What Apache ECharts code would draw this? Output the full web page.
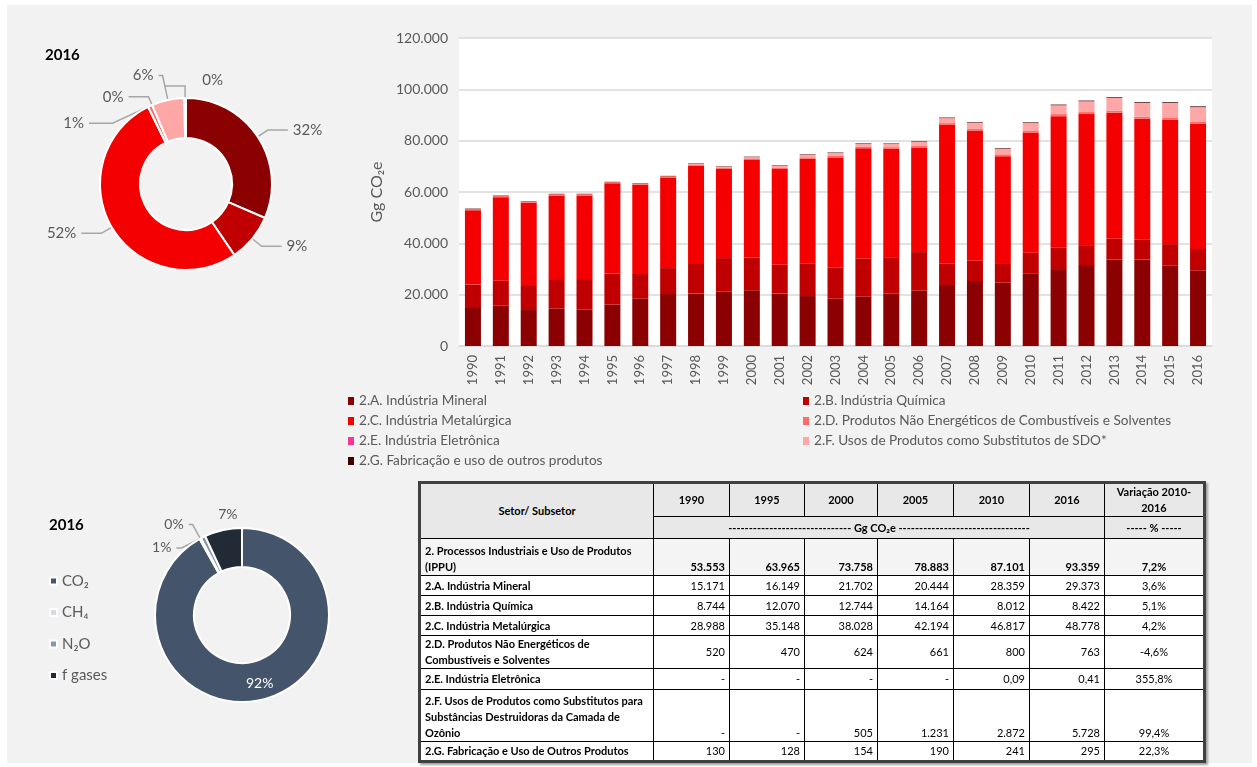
<!DOCTYPE html>
<html>
<head>
<meta charset="utf-8">
<script src="https://cdn.jsdelivr.net/npm/echarts@6.0.0/dist/echarts.min.js"></script>
<style>
html, body { margin: 0; padding: 0; background: #fff; }
#fundo { position: absolute; left: 7px; top: 5px; width: 1245px; height: 758px; background: #f2f2f2; }
#main { position: absolute; left: 0; top: 0; width: 1257px; height: 767px; }
#tabela { position: absolute; left: 418px; top: 481px; width: 785px; border-collapse: collapse; table-layout: fixed;
  font-family: Lato, "Liberation Sans", sans-serif; font-size: 11px; color: #000; background: #fff;
  border: 3px solid #404040; box-shadow: 2px 2px 2px #a0a0a0; }
#tabela td { border: 1px solid #000; padding: 0 4px; line-height: 16px; overflow: hidden; white-space: pre-line; }
#tabela .cab { background: #e8e8e8; font-weight: bold; text-align: center; vertical-align: middle; }
#tabela .rot { font-weight: bold; text-align: left; }
#tabela .num { text-align: right; }
#tabela .var { text-align: center; }
#tabela tr.total td { background: #f4f4f4; font-weight: bold; vertical-align: bottom; }
</style>
</head>
<body>
<div id="fundo"></div>
<div id="main"></div>
<table id="tabela"></table>
<script>
// anos do grafico de barras
var anos = ['1990','1991','1992','1993','1994','1995','1996','1997','1998','1999','2000','2001','2002','2003',
  '2004','2005','2006','2007','2008','2009','2010','2011','2012','2013','2014','2015','2016'];

// Gg CO2e por subsetor
var mineral = [15171,15700,14010,14660,14270,16149,18420,20240,20500,21150,21702,20500,19460,18420,19200,20444,21540,23740,25300,24650,28359,29580,31520,33730,33730,31270,29373];
var quimica = [8744,9730,9730,11420,11810,12070,9990,10120,11810,13100,12744,11160,12580,12190,14920,14164,15050,8300,7910,7650,8012,8690,7780,8040,7650,8430,8422];
var metalurgica = [28988,32570,32060,32590,32600,35148,34420,35290,37900,34740,38028,37270,40850,42790,42945,42194,40790,54050,50580,41665,46817,51280,51050,49120,47160,48590,48778];
var naoEnergeticos = [520,510,500,490,480,470,480,500,560,560,624,600,620,640,650,661,700,750,770,720,800,800,800,800,790,780,763];
var eletronica = [null,null,null,null,null,null,null,null,null,null,null,null,null,null,null,null,null,null,null,null,0.09,null,null,null,null,null,0.41];
var substitutosSDO = [null,null,null,null,null,null,null,null,300,350,505,750,1050,1150,1100,1231,1500,1950,2400,2150,2872,3450,4200,4950,5350,5600,5728];
var outrosProdutos = [130,130,130,130,130,128,130,140,150,150,154,160,170,180,185,190,200,210,220,225,241,250,260,270,280,290,295];

var nomesSubsetor = ['2.A. Indústria Mineral','2.B. Indústria Química','2.C. Indústria Metalúrgica',
  '2.D. Produtos Não Energéticos de Combustíveis e Solventes','2.E. Indústria Eletrônica',
  '2.F. Usos de Produtos como Substitutos de SDO*','2.G. Fabricação e uso de outros produtos'];
var coresSubsetor = ['#8b0000','#c00000','#f50000','#ff6b6b','#ff3399','#ffa7a7','#3f0000'];

// 2016 por gas
var gases = ['CO₂','CH₄','N₂O','f gases'];
var valoresGases = [85800,250,800,6500];
var coresGases = ['#44546a','#d6dce5','#8497b0','#222a35'];

// tabela
var colunasTabela = ['1990','1995','2000','2005','2010','2016'];
var totalIPPU = [53553,63965,73758,78883,87101,93359];
var rotulosTabela = ['2.A. Indústria Mineral','2.B. Indústria Química','2.C. Indústria Metalúrgica',
  '2.D. Produtos Não Energéticos de\nCombustíveis e Solventes','2.E. Indústria Eletrônica',
  '2.F. Usos de Produtos como Substitutos para\nSubstâncias Destruidoras da Camada de\nOzônio',
  '2.G. Fabricação e Uso de Outros Produtos'];
var variacao = [7.2,3.6,5.1,4.2,-4.6,355.8,99.4,22.3];

var series = [mineral, quimica, metalurgica, naoEnergeticos, eletronica, substitutosSDO, outrosProdutos];
var fonte = 'Lato, "Liberation Sans", sans-serif';
var cinza = '#595959';

function milhar(v) {
    return String(Math.round(v)).replace(/\B(?=(\d{3})+(?!\d))/g, '.');
}
function fmt(v) {
    if (v == null) return '-';
    if (v < 1) return v.toFixed(2).replace('.', ',');
    return milhar(v);
}

var barras = [];
for (var i = 0; i < series.length; i++) {
    barras.push({
        name: nomesSubsetor[i],
        type: 'bar',
        stack: 'total',
        barWidth: 16,
        data: series[i],
        itemStyle: { color: coresSubsetor[i] }
    });
}

var fatias2016 = [];
for (var i = 0; i < series.length; i++) {
    fatias2016.push({ name: nomesSubsetor[i], value: series[i][26], itemStyle: { color: coresSubsetor[i] } });
}
// linhas dos rotulos pequenos
fatias2016[3].labelLine = { length: -19, length2: 69 };
fatias2016[4].labelLine = { length: 9, length2: 20 };
fatias2016[5].labelLine = { length: 25, length2: 4 };

var fatiasGas = [];
for (var i = 0; i < gases.length; i++) {
    fatiasGas.push({ name: gases[i], value: valoresGases[i], itemStyle: { color: coresGases[i] } });
}
fatiasGas[0].label = { position: 'inside', color: '#fff' };
fatiasGas[1].labelLine = { length: 16, length2: 4 };
fatiasGas[2].labelLine = { length: -12, length2: 32 };
fatiasGas[3].labelLine = { show: false };

// deslocamento dos rotulos que ficam do outro lado, como no original
var desloc1 = { 6: [63, -6] };
var desloc2 = { 3: [42, -4] };

var myChart = echarts.init(document.getElementById('main'));
var legendaTexto = { color: cinza, fontSize: 13.6, lineHeight: 14, fontFamily: fonte };
var option = {
    animation: false,
    textStyle: { fontFamily: fonte },
    title: [
        { text: '2016', left: 40, top: 43, textStyle: { fontSize: 15, fontWeight: 'bold', color: '#000', fontFamily: fonte } },
        { text: '2016', left: 44, top: 513, textStyle: { fontSize: 15, fontWeight: 'bold', color: '#000', fontFamily: fonte } }
    ],
    grid: { left: 459, top: 38, width: 753, height: 308, show: true, backgroundColor: '#fff', borderWidth: 0 },
    legend: [
        { orient: 'vertical', left: 343, top: 389, itemGap: 6, itemWidth: 6, itemHeight: 8, icon: 'rect',
          data: [nomesSubsetor[0], nomesSubsetor[2], nomesSubsetor[4], nomesSubsetor[6]], textStyle: legendaTexto },
        { orient: 'vertical', left: 798, top: 389, itemGap: 6, itemWidth: 6, itemHeight: 8, icon: 'rect',
          data: [nomesSubsetor[1], nomesSubsetor[3], nomesSubsetor[5]], textStyle: legendaTexto },
        { orient: 'vertical', left: 44, top: 568, itemGap: 15.5, itemWidth: 7, itemHeight: 7, icon: 'rect',
          data: gases, textStyle: { color: cinza, fontSize: 15, lineHeight: 16, fontFamily: fonte } }
    ],
    xAxis: {
        type: 'category',
        data: anos,
        axisLine: { lineStyle: { color: '#d9d9d9', width: 1.5 } },
        axisTick: { show: false },
        axisLabel: { rotate: 90, color: cinza, fontSize: 13, margin: 9, interval: 0 }
    },
    yAxis: {
        type: 'value',
        min: 0,
        max: 120000,
        interval: 20000,
        name: 'Gg CO₂e',
        nameLocation: 'middle',
        nameGap: 64,
        nameTextStyle: { color: cinza, fontSize: 16 },
        axisLine: { show: false },
        axisTick: { show: false },
        axisLabel: { color: cinza, fontSize: 14, margin: 11, formatter: function (v) { return milhar(v); } },
        splitLine: { lineStyle: { color: '#d9d9d9', width: 1.5 } }
    },
    series: barras.concat([
        {
            name: 'subsetores 2016',
            type: 'pie',
            center: [186, 184],
            radius: [46, 86],
            startAngle: 90,
            percentPrecision: 0,
            avoidLabelOverlap: false,
            data: fatias2016,
            itemStyle: { borderColor: '#fff', borderWidth: 2 },
            label: { formatter: '{d}%', color: cinza, fontSize: 15 },
            labelLine: { length: 12, length2: 20, lineStyle: { color: '#a6a6a6', width: 1.5 } },
            labelLayout: function (p) {
                var d = desloc1[p.dataIndex];
                return d ? { dx: d[0], dy: d[1] } : {};
            }
        },
        {
            name: 'gases 2016',
            type: 'pie',
            center: [242, 615],
            radius: [48, 87],
            startAngle: 90,
            percentPrecision: 0,
            avoidLabelOverlap: false,
            data: fatiasGas,
            itemStyle: { borderColor: '#fff', borderWidth: 2 },
            label: { formatter: '{d}%', color: cinza, fontSize: 14 },
            labelLine: { length: 12, length2: 20, lineStyle: { color: '#a6a6a6', width: 1.5 } },
            labelLayout: function (p) {
                var d = desloc2[p.dataIndex];
                return d ? { dx: d[0], dy: d[1] } : {};
            }
        }
    ])
};
myChart.setOption(option);

// tabela de emissoes
var alturas = [20, 20, 20, 33, 21, 52, 20];
var idxAnos = colunasTabela.map(function (a) { return anos.indexOf(a); });
var html = '<colgroup><col style="width:234px"><col style="width:76px"><col style="width:75px"><col style="width:73px">' +
    '<col style="width:76px"><col style="width:76px"><col style="width:75px"><col style="width:100px"></colgroup>';
html += '<tr style="height:34px"><td class="cab" rowspan="2">Setor/ Subsetor</td>';
colunasTabela.forEach(function (a) { html += '<td class="cab">' + a + '</td>'; });
html += '<td class="cab">Variação 2010-\n2016</td></tr>';
html += '<tr style="height:22px"><td class="cab" colspan="6">------------------------------ Gg CO₂e --------------------------------</td>' +
    '<td class="cab">----- % -----</td></tr>';
html += '<tr class="total" style="height:37px"><td class="rot">2. Processos Industriais e Uso de Produtos\n(IPPU)</td>';
totalIPPU.forEach(function (v) { html += '<td class="num">' + fmt(v) + '</td>'; });
html += '<td class="var">' + variacao[0].toFixed(1).replace('.', ',') + '%</td></tr>';
for (var r = 0; r < rotulosTabela.length; r++) {
    var va = r == 5 ? 'bottom' : 'middle';
    html += '<tr style="height:' + alturas[r] + 'px;vertical-align:' + va + '"><td class="rot">' + rotulosTabela[r] + '</td>';
    idxAnos.forEach(function (k) { html += '<td class="num">' + fmt(series[r][k]) + '</td>'; });
    html += '<td class="var">' + variacao[r + 1].toFixed(1).replace('.', ',') + '%</td></tr>';
}
document.getElementById('tabela').innerHTML = html;
</script>
</body>
</html>
